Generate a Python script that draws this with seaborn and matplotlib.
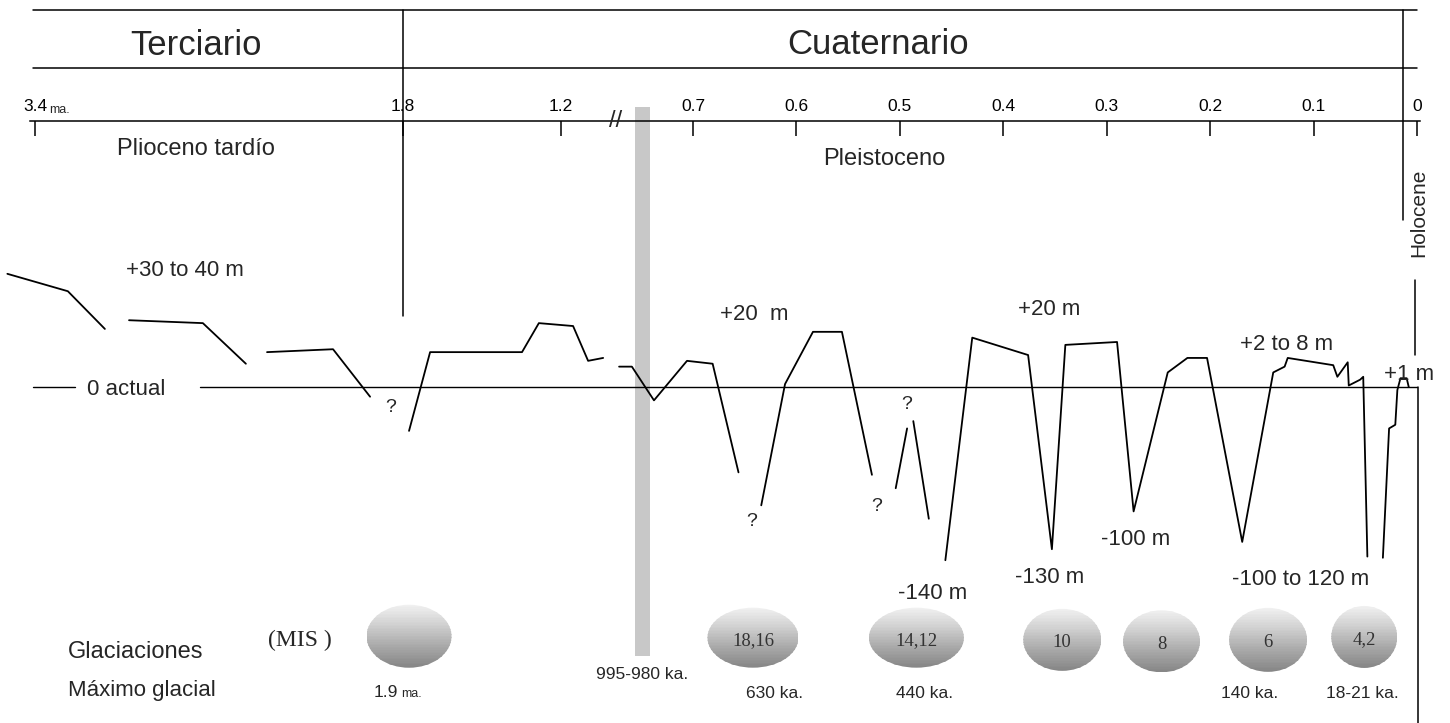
"""
Sea-level curve, Late Pliocene to Holocene (schematic), with glaciations (MIS).
"""

import numpy as np
import pandas as pd
import matplotlib
matplotlib.use("Agg")
import matplotlib.pyplot as plt
import seaborn as sns
from matplotlib.colors import LinearSegmentedColormap
from matplotlib.patches import Ellipse, Rectangle
from matplotlib.transforms import ScaledTranslation

# ------------------------------------------------------------------ #
# Data: ages in Ma before present, sea level in m relative to today
# ------------------------------------------------------------------ #
curve_ma = [
    [3.52, 3.257, 3.096],
    [2.991, 2.670, 2.483],
    [2.391, 2.104, 1.943],
    [1.777, 1.697, 1.348, 1.284, 1.167, 1.126, 1.085],
    [1.041, 1.004, 0.954, 0.739, 0.681, 0.656],
    [0.634, 0.611, 0.584, 0.556, 0.527],
    [0.504, 0.493],
    [0.487, 0.472],
    [0.456, 0.430, 0.376, 0.353, 0.340, 0.290, 0.274, 0.241, 0.222, 0.203,
     0.169, 0.139, 0.128, 0.125, 0.081, 0.077, 0.067, 0.066, 0.055, 0.052, 0.048],
    [0.033, 0.027, 0.021, 0.019, 0.016, 0.010, 0.008],
]
curve_m = [
    [39, 33, 20],
    [23, 22, 8],
    [12, 13, -8],
    [-36, 12, 12, 22, 21, 9, 10],
    [7, 7, -11, 9, 8, -70],
    [-97, 1, 19, 19, -72],
    [-83, -34],
    [-28, -108],
    [-142, 17, 11, -133, 14.5, 15.5, -102, 5, 10, 10,
     -127, 5, 7, 10, 7.5, 3.5, 8.5, 0.5, 2.5, 3.5, -139],
    [-140, -34, -31, -2.5, 3, 3, 0],
]

tick_ma = [3.4, 1.8, 1.2, 0.7, 0.6, 0.5, 0.4, 0.3, 0.2, 0.1, 0.0]
tick_labels = ["3.4", "1.8", "1.2", "0.7", "0.6", "0.5", "0.4", "0.3", "0.2", "0.1", "0"]

# broken time axis: relative spacing of the scale (distance from present)
axis_ma = [-0.05, 0.0, 0.7, 0.98, 0.995, 1.05, 1.2, 1.8, 3.4, 3.6]
axis_span = [-51.7, 0, 724, 767, 782, 801, 856, 1014, 1382, 1428]
# sea level is drawn exaggerated above zero
level_m = [-400, 0, 200]
level_span = [-488, 0, 580]

level_labels = ["+30 to 40 m", "+20  m", "+20 m", "+2 to 8 m",
                "-140 m", "-130 m", "-100 m", "-100 to 120 m"]
level_label_ma = [2.748, 0.641, 0.356, 0.126, 0.468, 0.355, 0.272, 0.113]
level_label_m = [41, 26, 27.6, 15.5, -167, -154, -123, -156]

query_ma = [1.852, 0.643, 0.522, 0.493]
query_m = [-14.8, -109, -96.7, -13.1]

bar_ma = (0.995, 0.98)
bar_label = "995-980 ka."

mis_labels = ["", "18,16", "14,12", "10", "8", "6", "4,2"]
mis_ma = [1.777, 0.642, 0.484, 0.343, 0.247, 0.144, 0.051]   # where the discs sit
mis_size = [(0.85, 0.63), (0.91, 0.60), (0.95, 0.60), (0.78, 0.62),
            (0.77, 0.62), (0.78, 0.64), (0.66, 0.62)]
mis_y = [0.120, 0.118, 0.118, 0.115, 0.113, 0.115, 0.119]

glacial_max = ["630 ka.", "440 ka.", "140 ka.", "18-21 ka."]
glacial_max_ma = [0.621, 0.476, 0.1615, 0.0532]


# ------------------------------------------------------------------ #
# Scales
# ------------------------------------------------------------------ #
def time_fwd(t):
    return np.interp(t, axis_ma, axis_span)


def time_inv(d):
    return np.interp(d, axis_span, axis_ma)


def level_fwd(m):
    return np.interp(m, level_m, level_span)


def level_inv(h):
    return np.interp(h, level_span, level_m)


sns.set_style("white")
plt.rcParams["font.family"] = ["Liberation Sans", "DejaVu Sans"]
SERIF = ["Liberation Serif", "DejaVu Serif"]

fig = plt.figure(figsize=(14.5, 7.23), dpi=100)
ax = fig.add_axes([0, 0, 1, 1])

# ------------------------------------------------------------------ #
# Sea-level curve
# ------------------------------------------------------------------ #
pieces = pd.DataFrame({
    "piece": np.repeat(np.arange(len(curve_ma)), [len(p) for p in curve_ma]),
    "ma": np.concatenate(curve_ma),
    "m": np.concatenate(curve_m),
})
sns.lineplot(data=pieces, x="ma", y="m", units="piece", estimator=None,
             sort=False, color="black", linewidth=1.3, legend=False, ax=ax,
             zorder=3)

ax.set_xscale("function", functions=(time_fwd, time_inv))
ax.set_yscale("function", functions=(level_fwd, level_inv))
ax.set_autoscale_on(False)
ax.set_xlim(3.552, -0.0319)
ax.set_ylim(-275.4, 133.4)
ax.set_xlabel("")
ax.set_ylabel("")
ax.set_yticks([])

xt = ax.get_xaxis_transform()

# present-day level
ax.plot([3.409, 3.226], [0, 0], color="black", lw=1.0)
ax.plot([2.683, 0.0], [0, 0], color="black", lw=1.0)
ax.text(3.174, 0, "0 actual", ha="left", va="center_baseline", fontsize=16)

# Mid-Pleistocene transition bar
ax.axvspan(bar_ma[1], bar_ma[0], ymin=0.093, ymax=0.852,
           color="#c8c8c8", lw=0, zorder=1)
ax.text(np.mean(bar_ma), 0.069, bar_label, transform=xt, ha="center",
        va="center_baseline", fontsize=12.5)

for lab, t, m in zip(level_labels, level_label_ma, level_label_m):
    ax.text(t, m, lab, ha="center", va="center_baseline", fontsize=16)
ax.text(0.032, 5.2, "+1 m", ha="left", va="center_baseline", fontsize=16)
for t, m in zip(query_ma, query_m):
    ax.text(t, m, "?", ha="center", va="center_baseline", fontsize=14)

# ------------------------------------------------------------------ #
# Time axis and chronostratigraphic header
# ------------------------------------------------------------------ #
for s in ["left", "right", "bottom"]:
    ax.spines[s].set_visible(False)
ax.spines["top"].set_position(("axes", 0.8326))
ax.spines["top"].set_bounds(3.42, -0.003)
ax.spines["top"].set_color("black")
ax.spines["top"].set_linewidth(1.1)
ax.set_xticks(tick_ma, labels=tick_labels)
ax.tick_params(axis="x", top=True, bottom=False, labeltop=True,
               labelbottom=False, direction="in", length=10.5, width=1.1,
               pad=5, labelsize=12.5, color="black", labelcolor="black")
ax.text(3.339, 0.8437, "ma.", transform=xt, ha="left", va="baseline", fontsize=9)
ax.text(1.05, 0.8326, "//", transform=xt, ha="center", va="center",
        fontsize=17, zorder=4)

for y in [0.986, 0.906]:
    ax.plot([3.41, 0.0], [y, y], transform=xt, color="black", lw=1.1)
ax.axvline(1.8, ymin=0.563, ymax=0.986, color="black", lw=1.1)
ax.axvline(0.014, ymin=0.696, ymax=0.986, color="black", lw=1.1)
ax.axvline(0.002, ymin=0.509, ymax=0.613, color="black", lw=1.1)
ax.axvline(-0.001, ymin=0.0, ymax=0.465, color="black", lw=1.1)

ax.text(2.70, 0.924, "Terciario", transform=xt, ha="center", va="baseline", fontsize=25)
ax.text(0.521, 0.926, "Cuaternario", transform=xt, ha="center", va="baseline", fontsize=25)
ax.text(2.70, 0.798, "Plioceno tardío", transform=xt, ha="center",
        va="center_baseline", fontsize=17)
ax.text(0.5155, 0.784, "Pleistoceno", transform=xt, ha="center",
        va="center_baseline", fontsize=17)
ax.text(-0.002, 0.705, "Holocene", transform=xt, ha="center", va="center",
        rotation=90, fontsize=15)

# ------------------------------------------------------------------ #
# Glaciations (MIS discs)
# ------------------------------------------------------------------ #
ax.text(3.257, 0.101, "Glaciaciones", transform=xt, ha="left",
        va="center_baseline", fontsize=17)
ax.text(3.257, 0.0484, "Máximo glacial", transform=xt, ha="left",
        va="center_baseline", fontsize=16)
ax.text(2.387, 0.1176, "(MIS )", transform=xt, ha="left",
        va="center_baseline", fontsize=17, family=SERIF)

disc_cmap = LinearSegmentedColormap.from_list(
    "disc", ["#f0f0f0", "#cfcfcf", "#a9a9a9", "#878787"])
n_bands = 40
for lab, t, (w, h), y in zip(mis_labels, mis_ma, mis_size, mis_y):
    trans = fig.dpi_scale_trans + ScaledTranslation(t, y, xt)
    shape = Ellipse((0, 0), w, h, transform=trans, facecolor="none",
                    edgecolor="none")
    ax.add_patch(shape)
    for i in range(n_bands):
        y0 = h / 2 - (i + 1) * h / n_bands
        band = Rectangle((-w / 2, y0), w, h / n_bands * 1.3, transform=trans,
                         facecolor=disc_cmap(i / (n_bands - 1)), lw=0)
        band.set_clip_path(shape)
        ax.add_patch(band)
    if lab:
        ax.text(0, -0.03, lab, transform=trans, ha="center", va="center",
                fontsize=13.5, family=SERIF, color="#333333", zorder=4)

ax.text(1.822, 0.036, "1.9", transform=xt, ha="right", va="baseline", fontsize=12.5)
ax.text(1.809, 0.036, "ma.", transform=xt, ha="left", va="baseline", fontsize=9)
for lab, t in zip(glacial_max, glacial_max_ma):
    ax.text(t, 0.0429, lab, transform=xt, ha="center", va="center_baseline",
            fontsize=12.5)

fig.savefig("out.png", dpi=100)
plt.close(fig)
